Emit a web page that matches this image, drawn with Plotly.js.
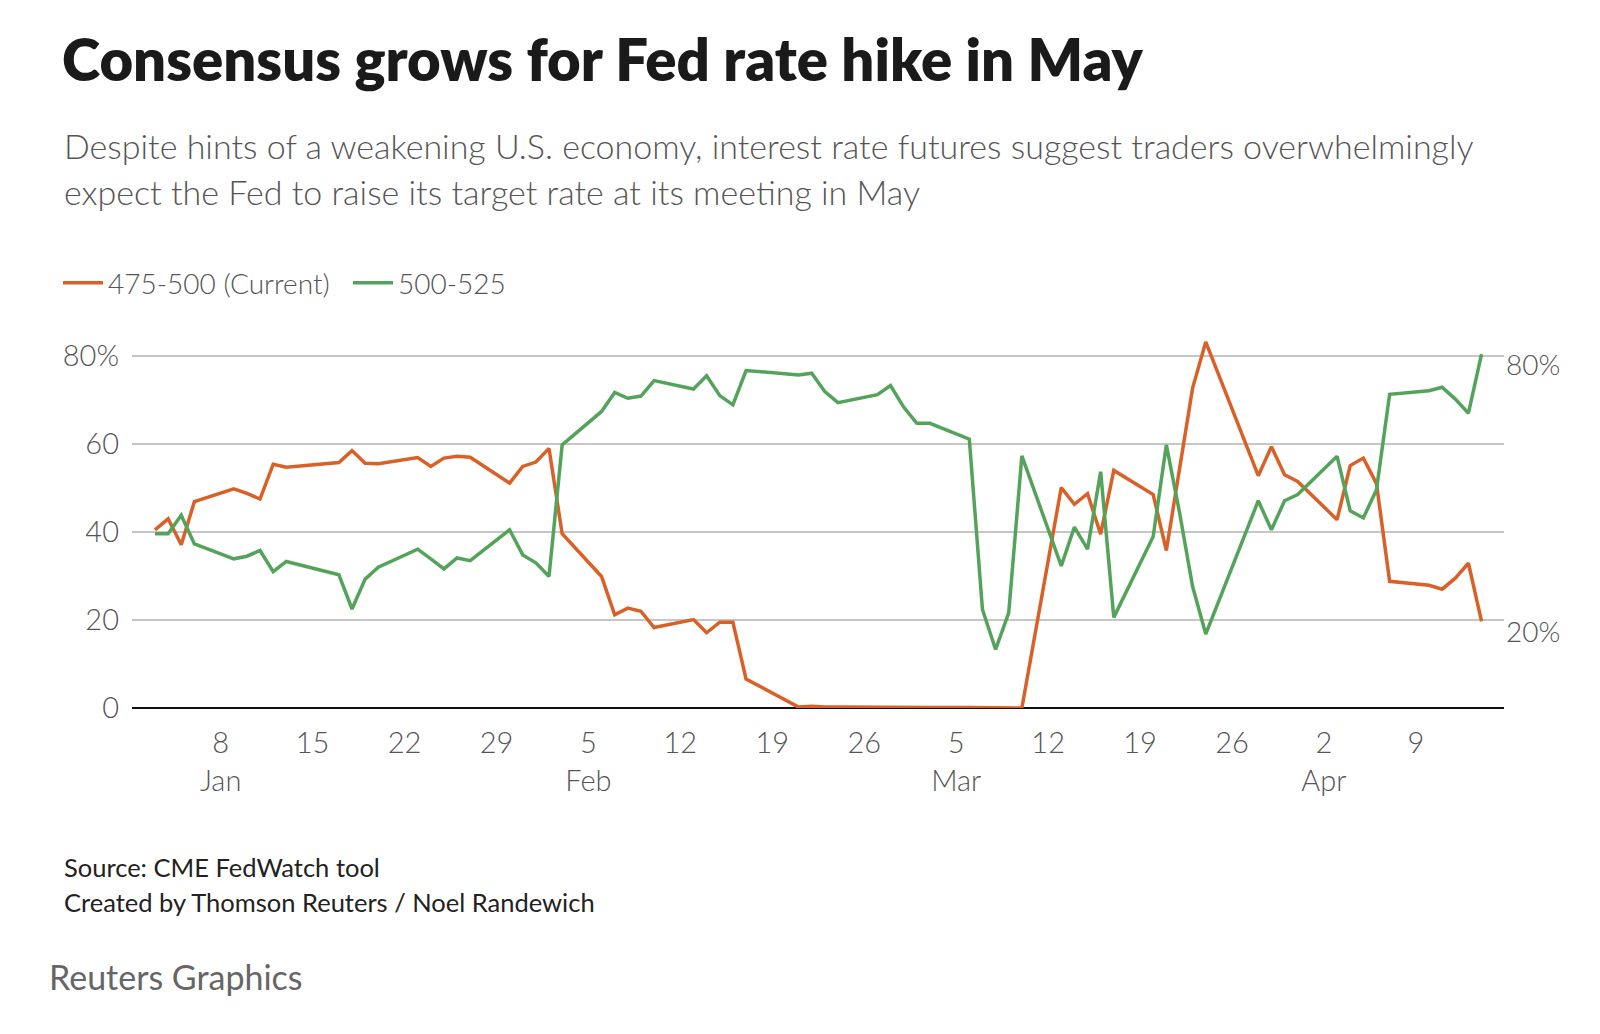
<!DOCTYPE html>
<html>
<head>
<meta charset="utf-8">
<script src="https://cdn.plot.ly/plotly-3.0.1.min.js"></script>
<style>
  html, body { margin: 0; padding: 0; background: #fff; }
  #chart { width: 1600px; height: 1034px; }
</style>
</head>
<body>
<div id="chart"></div>
<script>
// ---- Data ----
const dates = [
  '2023-01-03','2023-01-04','2023-01-05','2023-01-06',
  '2023-01-09','2023-01-10','2023-01-11','2023-01-12','2023-01-13',
  '2023-01-17','2023-01-18','2023-01-19','2023-01-20',
  '2023-01-23','2023-01-24','2023-01-25','2023-01-26','2023-01-27',
  '2023-01-30','2023-01-31','2023-02-01','2023-02-02','2023-02-03',
  '2023-02-06','2023-02-07','2023-02-08','2023-02-09','2023-02-10',
  '2023-02-13','2023-02-14','2023-02-15','2023-02-16','2023-02-17',
  '2023-02-21','2023-02-22','2023-02-23','2023-02-24',
  '2023-02-27','2023-02-28','2023-03-01','2023-03-02','2023-03-03',
  '2023-03-06','2023-03-07','2023-03-08','2023-03-09','2023-03-10',
  '2023-03-13','2023-03-14','2023-03-15','2023-03-16','2023-03-17',
  '2023-03-20','2023-03-21','2023-03-22','2023-03-23','2023-03-24',
  '2023-03-27','2023-03-28','2023-03-29','2023-03-30','2023-03-31',
  '2023-04-03','2023-04-04','2023-04-05','2023-04-06','2023-04-07',
  '2023-04-10','2023-04-11','2023-04-12','2023-04-13','2023-04-14'
];

const current475_500 = [
  40.5, 43.0, 37.1, 46.9,
  49.8, 48.8, 47.5, 55.4, 54.7,
  55.8, 58.5, 55.6, 55.5,
  56.9, 54.9, 56.8, 57.2, 57.0,
  51.1, 54.9, 55.9, 59.0, 39.6,
  29.9, 21.2, 22.7, 22.0, 18.3,
  20.1, 17.1, 19.5, 19.5, 6.6,
  0.2, 0.4, 0.2, 0.2,
  0.1, 0.1, 0.1, 0.1, 0.1,
  0.1, 0.1, 0.1, 0.1, 0.0,
  50.1, 46.3, 48.7, 39.5, 54.0,
  48.5, 35.8, 54.0, 72.7, 83.2,
  60.6, 52.8, 59.4, 53.0, 51.5,
  42.8, 55.1, 56.8, 51.0, 28.8,
  27.9, 27.0, 29.5, 32.9, 19.7
];

const hike500_525 = [
  39.6, 39.6, 43.8, 37.3,
  33.9, 34.5, 35.8, 31.0, 33.3,
  30.3, 22.5, 29.3, 32.0,
  36.1, 33.9, 31.6, 34.1, 33.5,
  40.5, 34.8, 33.0, 29.9, 59.8,
  67.4, 71.7, 70.4, 70.9, 74.4,
  72.5, 75.5, 71.0, 68.9, 76.7,
  75.7, 76.1, 71.9, 69.4,
  71.2, 73.3, 68.4, 64.7, 64.7,
  61.1, 22.4, 13.3, 21.6, 57.3,
  32.3, 41.1, 36.1, 53.7, 20.6,
  39.0, 59.8, 44.5, 27.6, 16.8,
  39.4, 47.1, 40.5, 47.1, 48.5,
  57.2, 44.8, 43.2, 49.6, 71.3,
  72.1, 72.9, 70.2, 67.0, 80.4
];

const seriesNames = ['475-500 (Current)', '500-525'];

const xTickVals = [
  '2023-01-08','2023-01-15','2023-01-22','2023-01-29',
  '2023-02-05','2023-02-12','2023-02-19','2023-02-26',
  '2023-03-05','2023-03-12','2023-03-19','2023-03-26',
  '2023-04-02','2023-04-09'
];
const xTickText = [
  '8<br>Jan','15','22','29',
  '5<br>Feb','12','19','26',
  '5<br>Mar','12','19','26',
  '2<br>Apr','9'
];
const yTickVals = [0, 20, 40, 60, 80];
const yTickText = ['0', '20', '40', '60', '80%'];

// ---- Styling ----
const ORANGE = 'rgb(217,97,40)';
const GREEN = 'rgb(84,163,91)';
const FONT = 'Lato, "Source Sans Pro", "Noto Sans", sans-serif';
const GREY = '#555555';

const traces = [
  {
    x: dates, y: current475_500, name: seriesNames[0],
    type: 'scatter', mode: 'lines',
    line: { color: ORANGE, width: 3.5 },
    hoverinfo: 'skip'
  },
  {
    x: dates, y: hike500_525, name: seriesNames[1],
    type: 'scatter', mode: 'lines',
    line: { color: GREEN, width: 3.5 },
    hoverinfo: 'skip'
  }
];

// plot area geometry (px)
const L = 132, R = 1504, T = 334, B = 708.5, W = 1600, H = 1034;
const pxX = px => (px - L) / (R - L);
const pxY = py => (B - py) / (B - T);

const lastOrange = current475_500[current475_500.length - 1];
const lastGreen = hike500_525[hike500_525.length - 1];

const annotations = [
  { text: 'Despite hints of a weakening U.S. economy, interest rate futures suggest traders overwhelmingly',
    xref: 'paper', yref: 'paper', x: pxX(62), y: pxY(145), xanchor: 'left', yanchor: 'middle',
    showarrow: false, font: { family: FONT, size: 34, color: GREY, weight: 300 } },
  { text: 'expect the Fed to raise its target rate at its meeting in May',
    xref: 'paper', yref: 'paper', x: pxX(62), y: pxY(191), xanchor: 'left', yanchor: 'middle',
    showarrow: false, font: { family: FONT, size: 34, color: GREY, weight: 300 } },
  { text: 'Source: CME FedWatch tool',
    xref: 'paper', yref: 'paper', x: pxX(62), y: pxY(868), xanchor: 'left', yanchor: 'middle',
    showarrow: false, font: { family: FONT, size: 25.5, color: '#222222' } },
  { text: 'Created by Thomson Reuters / Noel Randewich',
    xref: 'paper', yref: 'paper', x: pxX(62), y: pxY(903), xanchor: 'left', yanchor: 'middle',
    showarrow: false, font: { family: FONT, size: 25.5, color: '#222222' } },
  { text: 'Reuters Graphics',
    xref: 'paper', yref: 'paper', x: pxX(47), y: pxY(977), xanchor: 'left', yanchor: 'middle',
    showarrow: false, font: { family: FONT, size: 34, color: '#666666' } },
  { text: Math.round(lastGreen) + '%',
    xref: 'paper', yref: 'y', x: 1, y: lastGreen, xanchor: 'left', yanchor: 'middle', yshift: -10,
    showarrow: false, font: { family: FONT, size: 28, color: GREY, weight: 300 } },
  { text: Math.round(lastOrange) + '%',
    xref: 'paper', yref: 'y', x: 1, y: lastOrange, xanchor: 'left', yanchor: 'middle', yshift: -10,
    showarrow: false, font: { family: FONT, size: 28, color: GREY, weight: 300 } }
];

const layout = {
  width: W, height: H,
  paper_bgcolor: '#ffffff', plot_bgcolor: '#ffffff',
  margin: { l: L, r: W - R, t: T, b: H - B, pad: 0 },
  font: { family: FONT, color: GREY },
  title: {
    text: 'Consensus grows for Fed rate hike in May',
    font: { family: FONT, size: 58, color: '#1a1a1a', weight: 800 },
    xref: 'container', yref: 'container',
    x: 62 / W, xanchor: 'left',
    y: 1 - 61 / H, yanchor: 'middle'
  },
  showlegend: true,
  legend: {
    orientation: 'h',
    x: pxX(58), xanchor: 'left',
    y: pxY(283), yanchor: 'middle',
    font: { family: FONT, size: 28, color: GREY, weight: 300 },
    bgcolor: 'rgba(0,0,0,0)',
    traceorder: 'normal',
    itemwidth: 40,
    entrywidthmode: 'pixels',
    entrywidth: 235
  },
  xaxis: {
    type: 'date',
    range: ['2023-01-01 06:00', '2023-04-15 17:00'],
    tickmode: 'array', tickvals: xTickVals, ticktext: xTickText,
    showgrid: false, zeroline: false, showline: false,
    ticks: '',
    ticklabelstandoff: 15,
    tickfont: { family: FONT, size: 29, color: GREY, weight: 300 },
    fixedrange: true
  },
  yaxis: {
    range: [0, 85],
    tickmode: 'array', tickvals: yTickVals, ticktext: yTickText,
    showgrid: true, gridcolor: '#c6c6c6', gridwidth: 1.5,
    zeroline: true, zerolinecolor: '#111111', zerolinewidth: 2,
    showline: false, ticks: '',
    ticklabelstandoff: 12,
    tickfont: { family: FONT, size: 29, color: GREY, weight: 300 },
    fixedrange: true
  },
  annotations: annotations
};

Plotly.newPlot('chart', traces, layout, { displayModeBar: false, staticPlot: true });
</script>
</body>
</html>
